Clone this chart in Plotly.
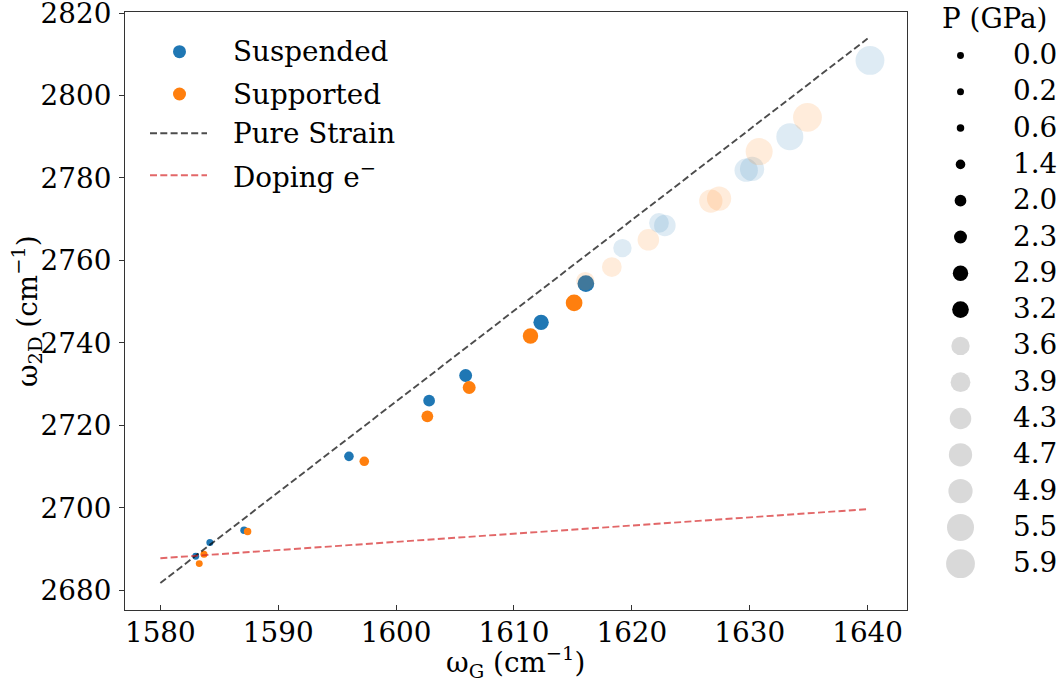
import math
import plotly.graph_objects as go

# ---------------- data ----------------
pressure = [0.0, 0.2, 0.6, 1.4, 2.0, 2.3, 2.9, 3.2, 3.6, 3.9, 4.3, 4.7, 4.9, 5.5, 5.9]

susp_G = [1583.0, 1584.2, 1587.1, 1596.0, 1602.8, 1605.9, 1612.3, 1616.1,
          1619.2, 1622.3, 1622.8, 1629.7, 1630.2, 1633.4, 1640.2]
susp_2D = [2688.3, 2691.6, 2694.6, 2712.5, 2726.0, 2732.1, 2745.0, 2754.4,
           2763.0, 2769.1, 2768.5, 2781.9, 2782.2, 2790.0, 2808.5]

supp_G = [1583.3, 1583.7, 1587.4, 1597.3, 1602.65, 1606.2, 1611.4, 1615.1,
          1616.05, 1618.3, 1621.4, 1626.7, 1627.4, 1630.8, 1634.9]
supp_2D = [2686.5, 2688.75, 2694.3, 2711.3, 2722.2, 2729.2, 2741.7, 2749.7,
           2755.0, 2758.4, 2765.0, 2774.4, 2775.0, 2786.4, 2794.7]

strain_G = [1580, 1640]
strain_2D = [2681.8, 2813.8]
doping_G = [1580, 1640]
doping_2D = [2687.8, 2699.7]

x_ticks = [1580, 1590, 1600, 1610, 1620, 1630, 1640]
y_ticks = [2680, 2700, 2720, 2740, 2760, 2780, 2800, 2820]

series_names = ["Suspended", "Supported"]
line_names = ["Pure Strain", "Doping e<sup>−</sup>"]

# ---------------- styling ----------------
W, H = 1060, 682
PL, PR, PT, PB = 125, 906.5, 12.2, 610  # plot-area edges in px
FONT = "DejaVu Serif"
FS = 27.8
BLUE, ORANGE = "#1f77b4", "#ff7f0e"
STRAIN_C = "rgba(0,0,0,0.7)"
DOPING_C = "rgba(214,39,40,0.7)"
DASH = "7px,3.3px"
LW = 1.9


def msize(p):
    return math.sqrt(48 + 22.5 * p * p)


sizes = [msize(p) for p in pressure]
opac = [1.0 if p <= 3.2 else 0.15 for p in pressure]

fig = go.Figure()

fig.add_trace(go.Scatter(x=susp_G, y=susp_2D, mode="markers", showlegend=False,
                         marker=dict(color=BLUE, size=sizes, opacity=opac, line=dict(width=0))))
fig.add_trace(go.Scatter(x=supp_G, y=supp_2D, mode="markers", showlegend=False,
                         marker=dict(color=ORANGE, size=sizes, opacity=opac, line=dict(width=0))))
fig.add_trace(go.Scatter(x=strain_G, y=strain_2D, mode="lines", showlegend=False,
                         line=dict(color=STRAIN_C, width=LW, dash=DASH)))
fig.add_trace(go.Scatter(x=doping_G, y=doping_2D, mode="lines", showlegend=False,
                         line=dict(color=DOPING_C, width=LW, dash=DASH)))

# ---------------- legends drawn on a pixel-space overlay axis ----------------
# left legend
leg_rows = [51.7, 94.0, 133.3, 175.3]
fig.add_trace(go.Scatter(x=[179.5, 179.5], y=leg_rows[:2], mode="markers", xaxis="x2", yaxis="y2",
                         showlegend=False, cliponaxis=False, hoverinfo="skip",
                         marker=dict(color=[BLUE, ORANGE], size=13, line=dict(width=0))))
for yy, col in zip(leg_rows[2:], [STRAIN_C, DOPING_C]):
    fig.add_trace(go.Scatter(x=[150, 207], y=[yy, yy], mode="lines", xaxis="x2", yaxis="y2",
                             showlegend=False, cliponaxis=False, hoverinfo="skip",
                             line=dict(color=col, width=LW, dash=DASH)))
annotations = []
for yy, txt in zip(leg_rows, series_names + line_names):
    annotations.append(dict(x=231, y=yy, xref="x2", yref="y2", text=txt, showarrow=False,
                            xanchor="left", yanchor="middle", font=dict(family=FONT, size=FS, color="black")))

# right (pressure size) legend
rows = [55.5 + 36.3 * i for i in range(len(pressure))]
fig.add_trace(go.Scatter(x=[960.5] * len(pressure), y=rows, mode="markers", xaxis="x2", yaxis="y2",
                         showlegend=False, cliponaxis=False, hoverinfo="skip",
                         marker=dict(color="black", size=sizes, opacity=opac, line=dict(width=0))))
for yy, p in zip(rows, pressure):
    annotations.append(dict(x=1011, y=yy - 1, xref="x2", yref="y2", text=f"{p:.1f}", showarrow=False,
                            xanchor="left", yanchor="middle", font=dict(family=FONT, size=FS, color="black")))
annotations.append(dict(x=994, y=18, xref="x2", yref="y2", text="P (GPa)", showarrow=False,
                        xanchor="center", yanchor="middle", font=dict(family=FONT, size=FS, color="black")))

# axis titles
annotations.append(dict(x=(PL + PR) / 2, y=662, xref="x2", yref="y2",
                        text="ω<sub>G</sub> (cm<sup>−1</sup>)", showarrow=False,
                        xanchor="center", yanchor="middle", font=dict(family=FONT, size=FS, color="black")))
annotations.append(dict(x=27, y=(PT + PB) / 2, xref="x2", yref="y2", textangle=-90,
                        text="ω<sub>2D</sub> (cm<sup>−1</sup>)", showarrow=False,
                        xanchor="center", yanchor="middle", font=dict(family=FONT, size=FS, color="black")))

axis_common = dict(showgrid=False, zeroline=False, showline=True, linecolor="#333333",
                   linewidth=1.2, mirror=True, ticklen=5, tickwidth=1.1, tickcolor="#333333",
                   tickfont=dict(family=FONT, size=FS, color="black"), automargin=False,
                   ticklabeloverflow="allow")

fig.update_layout(
    width=W, height=H,
    margin=dict(l=0, r=0, t=0, b=0),
    paper_bgcolor="white", plot_bgcolor="rgba(0,0,0,0)",
    showlegend=False,
    font=dict(family=FONT, size=FS, color="black"),
    xaxis=dict(domain=[PL / W, PR / W], range=[1577.0, 1643.3], tickvals=x_ticks,
               ticks="inside", ticklabelstandoff=-2, **axis_common),
    yaxis=dict(domain=[1 - PB / H, 1 - PT / H], range=[2675.25, 2820.2], tickvals=y_ticks,
               ticks="outside", ticklabelstandoff=2, **axis_common),
    xaxis2=dict(domain=[0, 1], range=[0, W], visible=False, anchor="y2", fixedrange=True),
    yaxis2=dict(domain=[0, 1], range=[H, 0], visible=False, anchor="x2", fixedrange=True),
    annotations=annotations,
)

fig.write_html("out.html")
